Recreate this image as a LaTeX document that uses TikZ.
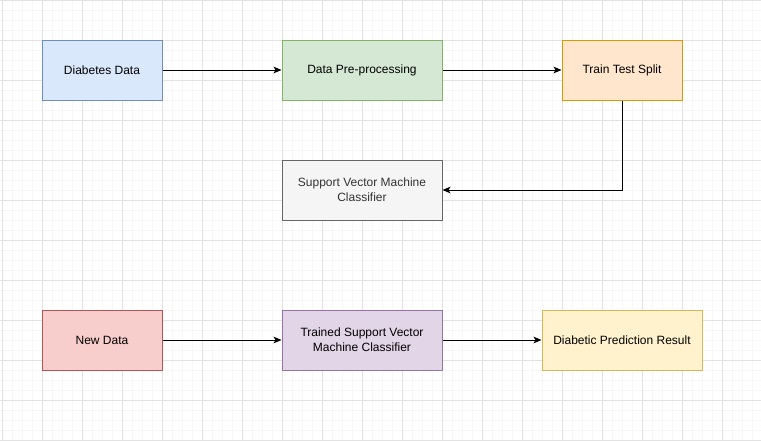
\documentclass[tikz,border=0pt]{standalone}
\usepackage{xcolor}
\usepackage{fontspec}
\setmainfont{Liberation Sans}
\usetikzlibrary{arrows.meta}
\usetikzlibrary{positioning, backgrounds}
\definecolor{blueFill}{HTML}{DAE8FC}
\definecolor{blueLine}{HTML}{6C8EBF}
\definecolor{greenFill}{HTML}{D5E8D4}
\definecolor{greenLine}{HTML}{82B366}
\definecolor{orangeFill}{HTML}{FFE6CC}
\definecolor{orangeLine}{HTML}{D79B00}
\definecolor{grayFill}{HTML}{F5F5F5}
\definecolor{grayLine}{HTML}{666666}
\definecolor{grayText}{HTML}{333333}
\definecolor{redFill}{HTML}{F8CECC}
\definecolor{redLine}{HTML}{B85450}
\definecolor{purpleFill}{HTML}{E1D5E7}
\definecolor{purpleLine}{HTML}{9673A6}
\definecolor{yellowFill}{HTML}{FFF2CC}
\definecolor{yellowLine}{HTML}{D6B656}
\definecolor{minorGrid}{HTML}{F7F7F7}
\definecolor{majorGrid}{HTML}{E2E2E2}
\tikzset{
stage/.style = { rectangle, draw = black, fill = white, line width = 0.75pt, minimum height = 45pt, align = center, font = \fontsize{9}{11}\selectfont, inner sep = 0pt },
short stage/.style = { stage, minimum width = 90pt },
long stage/.style = { stage, minimum width = 120pt },
flow/.style = { draw = black, line width = 0.75pt, -{Stealth[length = 6pt, width = 5pt, inset = 1.5pt]} },
}

\begin{document}
\begin{tikzpicture}[x=0.75pt, y=-0.75pt]
      \useasboundingbox (0,0) rectangle (761,440);
      % grid background
      \begin{scope}[line width=0.6pt]
        \foreach \gx in {2,12,...,762} \draw[minorGrid] (\gx,0) -- (\gx,440);
        \foreach \gy in {0,10,...,440} \draw[minorGrid] (0,\gy) -- (761,\gy);
        \foreach \gx in {2,42,...,762} \draw[majorGrid] (\gx,0) -- (\gx,440);
        \foreach \gy in {0,40,...,440} \draw[majorGrid] (0,\gy) -- (761,\gy);
      \end{scope}
      % training pipeline
      \node[short stage, fill=blueFill, draw=blueLine] (diab) at (102,70) {Diabetes Data};
      \node[long stage, fill=greenFill, draw=greenLine] (prep) at (362,70) {Data Pre-processing};
      \node[short stage, fill=orangeFill, draw=orangeLine] (split) at (622,70) {Train Test Split};
      \node[long stage, fill=grayFill, draw=grayLine, text=grayText] (svm) at (362,190) {Support Vector Machine\\Classifier};
      % prediction pipeline
      \node[short stage, fill=redFill, draw=redLine] (new) at (102,340) {New Data};
      \node[long stage, fill=purpleFill, draw=purpleLine] (trained) at (362,340) {Trained Support Vector\\Machine Classifier};
      \node[long stage, fill=yellowFill, draw=yellowLine] (result) at (622,340) {Diabetic Prediction Result};
      \begin{scope}
        \path [flow] (diab) -- (prep);
        \path [flow] (prep) -- (split);
        \path [flow] (split.south) |- (svm.east);
        \path [flow] (new) -- (trained);
        \path [flow] (trained) -- (result);
      \end{scope}
    \end{tikzpicture}
\end{document}
